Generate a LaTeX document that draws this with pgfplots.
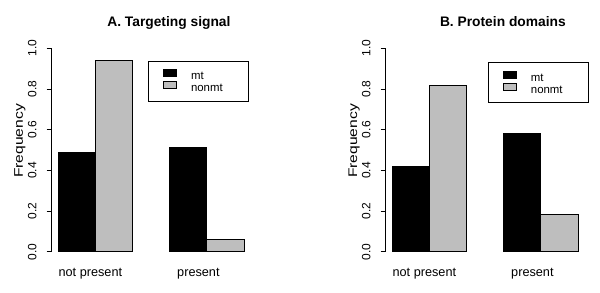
\documentclass[border=0pt]{standalone}
\usepackage{fontspec}
\setmainfont{Liberation Sans}
\usepackage{graphicx}
\usepackage{pgfplots}
\pgfplotsset{compat=1.18}
\definecolor{rgray}{HTML}{BEBEBE}
\newcommand{\lstrut}{\rule[-3.35pt]{0pt}{12.7pt}}
\pgfplotsset{
 rpanel/.style={
  ybar, bar width=1, bar shift=0pt,
  scale only axis, width=200.5pt, height=203.4pt,
  xmin=0.8, xmax=6.2, ymin=0, ymax=1,
  enlargelimits=false,
  axis y line*=left, axis x line*=bottom,
  x axis line style={draw=none},
  y axis line style={-, line width=0.9pt, black},
  xtick={1.86,4.77}, xticklabels={not present,present},
  x tick style={draw=none},
  ytick={0,0.2,0.4,0.6,0.8,1},
  yticklabels={0.0,0.2,0.4,0.6,0.8,1.0},
  y tick style={line width=0.9pt, black},
  tick align=outside, major tick length=4.3pt,
  yticklabel style={rotate=90, anchor=south, inner sep=0pt, font=\fontsize{12}{14}\selectfont},
  yticklabel shift=10pt,
  xticklabel style={anchor=base, inner sep=0pt, font=\fontsize{12.7}{15}\selectfont},
  xticklabel shift=20.6pt,
  ylabel={\fontsize{12.5}{15}\selectfont\scalebox{1.25}[1]{Frequency}},
  every axis y label/.style={at={(rel axis cs:0,0.544)}, rotate=90, anchor=base, yshift=28pt, inner sep=0pt},
  title style={at={(rel axis cs:0.588,1)}, anchor=base, yshift=15.6pt, inner sep=0pt, font=\bfseries\fontsize{13.8}{16}\selectfont},
  legend style={anchor=north west, draw=black, line width=0.9pt, fill=white,
    inner xsep=14.4pt, inner ysep=7.8pt, column sep=14pt, row sep=0pt,
    nodes={inner sep=0pt}, font=\fontsize{11.4}{12.7}\selectfont},
  legend cell align=left,
  legend image code/.code={\filldraw[#1, line width=0.6pt] (0pt,-0.5pt) rectangle (13.3pt,6.5pt);},
  clip=false,
  /pgf/number format/assume math mode=true,
 }
}
\begin{document}
\begin{tikzpicture}
\useasboundingbox (0,0) rectangle (600pt,292pt);
\begin{axis}[rpanel, at={(51pt,40.3pt)}, anchor=south west,
  title={A. Targeting signal},
  legend style={at={(axis cs:3.42,0.939)}}]
\addplot[fill=black, draw=black, line width=0.9pt] coordinates {(1.5,0.486) (4.5,0.514)};
\addlegendentry{\makebox[42.9pt][l]{\lstrut mt}}
\addplot[fill=rgray, draw=black, line width=0.9pt] coordinates {(2.5,0.938) (5.5,0.062)};
\addlegendentry{\makebox[42.9pt][l]{\lstrut nonmt}}
\end{axis}
\begin{axis}[rpanel, at={(385pt,40.3pt)}, anchor=south west,
  title={B. Protein domains},
  legend style={at={(axis cs:3.58,0.931)}}]
\addplot[fill=black, draw=black, line width=0.9pt] coordinates {(1.5,0.421) (4.5,0.579)};
\addlegendentry{\makebox[42.9pt][l]{\lstrut mt}}
\addplot[fill=rgray, draw=black, line width=0.9pt] coordinates {(2.5,0.817) (5.5,0.183)};
\addlegendentry{\makebox[42.9pt][l]{\lstrut nonmt}}
\end{axis}
\end{tikzpicture}
\end{document}
